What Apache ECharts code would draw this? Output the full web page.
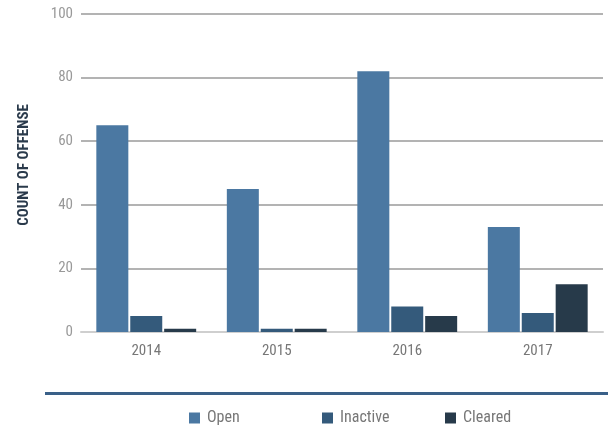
<!DOCTYPE html>
<html>
<head>
<meta charset="utf-8">
<script src="https://cdn.jsdelivr.net/npm/echarts@6/dist/echarts.min.js"></script>
<style>
  html, body { margin: 0; padding: 0; background: #fff; }
  #chart { width: 608px; height: 428px; }
</style>
</head>
<body>
<div id="chart"></div>
<script>
// Offense counts by year and status
const years = ['2014', '2015', '2016', '2017'];
const openCounts = [65, 45, 82, 33];
const inactiveCounts = [5, 1, 8, 6];
const clearedCounts = [1, 1, 5, 15];
const yTicks = { min: 0, max: 100, interval: 20 };
const yTitle = 'COUNT OF OFFENSE';

const FONT = '"Liberation Sans Narrow", "Roboto Condensed", "Roboto", sans-serif';
const colors = { Open: '#4b78a2', Inactive: '#345a7b', Cleared: '#273a4a' };

const chart = echarts.init(document.getElementById('chart'));

function legendAt(name, left) {
  return {
    data: [name],
    left: left,
    top: 405,
    itemWidth: 11,
    itemHeight: 11,
    icon: 'rect',
    itemGap: 0,
    textStyle: { fontFamily: FONT, fontSize: 16, color: '#777', padding: [0, 0, 0, 2] }
  };
}

chart.setOption({
  animation: false,
  color: [colors.Open, colors.Inactive, colors.Cleared],
  grid: { left: 81, right: 5, top: 14, bottom: 96 },
  legend: [legendAt('Open', 184), legendAt('Inactive', 317), legendAt('Cleared', 440)],
  graphic: [
    {
      type: 'rect',
      shape: { x: 45, y: 392, width: 563, height: 3 },
      style: { fill: '#3a6088' }
    },
    {
      type: 'text',
      x: 24,
      y: 165,
      rotation: Math.PI / 2,
      style: {
        text: yTitle,
        font: 'bold 15px ' + FONT,
        fill: '#2a3a4b',
        align: 'center',
        verticalAlign: 'middle'
      }
    }
  ],
  xAxis: {
    type: 'category',
    data: years,
    axisTick: { show: false },
    axisLine: { lineStyle: { color: '#cfcfcf', width: 2 } },
    axisLabel: { fontFamily: FONT, fontSize: 15, color: '#777', margin: 12 }
  },
  yAxis: {
    type: 'value',
    min: yTicks.min,
    max: yTicks.max,
    interval: yTicks.interval,
    axisLine: { show: false },
    axisTick: { show: false },
    axisLabel: { fontFamily: FONT, fontSize: 15, color: '#999', margin: 8 },
    splitLine: { lineStyle: { color: '#9a9a9a', width: 1.5 } }
  },
  series: [
    { name: 'Open', type: 'bar', data: openCounts, barWidth: 32, barGap: '6%' },
    { name: 'Inactive', type: 'bar', data: inactiveCounts, barWidth: 32, barGap: '6%' },
    { name: 'Cleared', type: 'bar', data: clearedCounts, barWidth: 32, barGap: '6%' }
  ]
});
</script>
</body>
</html>
